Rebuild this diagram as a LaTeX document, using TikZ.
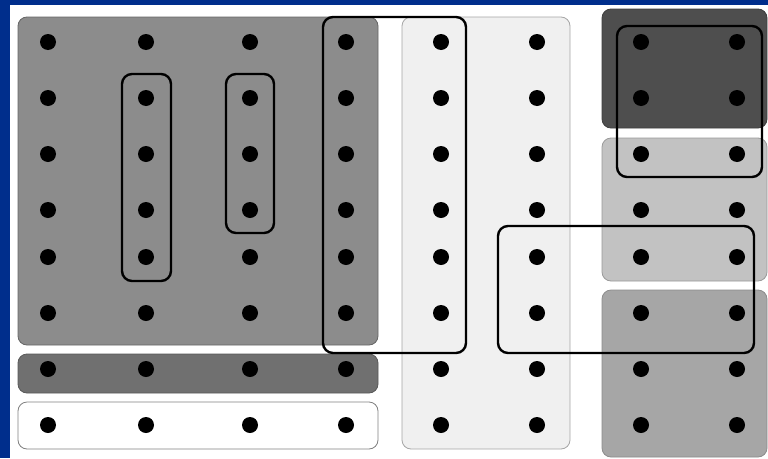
\documentclass[tikz,border=0pt]{standalone}
\begin{document}
\begin{tikzpicture}[x=1pt,y=-1pt,
  panel/.style={rounded corners=9pt, line width=0.8pt},
  ring/.style={draw=black, line width=2.4pt, rounded corners=10pt},
  dot/.style={circle, fill=black, inner sep=0pt, minimum size=16pt}]
\definecolor{bordblue}{RGB}{0,46,140}
\definecolor{gA}{RGB}{140,140,140}
\definecolor{gB}{RGB}{112,112,112}
\definecolor{gC}{RGB}{240,240,240}
\definecolor{gD}{RGB}{78,78,78}
\definecolor{gE}{RGB}{194,194,194}
\definecolor{gF}{RGB}{166,166,166}
\useasboundingbox (0,0) rectangle (768,458);
\fill[bordblue] (0,0) rectangle (768,458);
\fill[white] (10,5) rectangle (768,458);
% panels
\draw[panel, fill=gA, draw=gray!80!black] (18,17) rectangle (378,345);
\draw[panel, fill=gB, draw=gray!70!black] (18,354) rectangle (378,393);
\draw[panel, fill=white, draw=gray] (18,402) rectangle (378,449);
\draw[panel, fill=gC, draw=gray!70] (402,17) rectangle (570,449);
\draw[panel, fill=gD, draw=gD!80!black] (602,9) rectangle (767,128);
\draw[panel, fill=gE, draw=gray!80] (602,138) rectangle (767,281);
\draw[panel, fill=gF, draw=gray!90] (602,290) rectangle (767,457);
% outlines
\draw[ring] (122,74) rectangle (171,281);
\draw[ring] (226,74) rectangle (274,233);
\draw[ring] (323,17) rectangle (466,353);
\draw[ring] (498,226) rectangle (754,353);
\draw[ring] (617,26) rectangle (762,177);
% dots
\foreach \x [count=\i] in {48,146,250,346,441,537,641,737}
  \foreach \y [count=\j] in {42,98,154,210,257,313,369,425}
    \node[dot] (d\i-\j) at (\x,\y) {};
\end{tikzpicture}
\end{document}
